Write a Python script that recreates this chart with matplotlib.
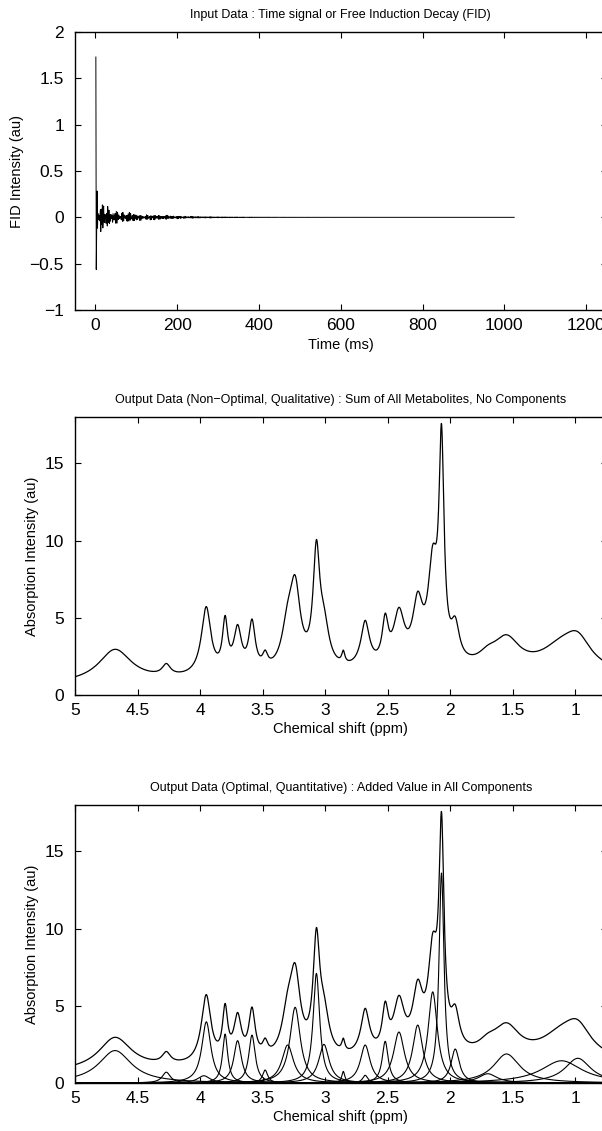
import numpy as np
import matplotlib.pyplot as plt

plt.rcParams['font.family'] = ['Liberation Sans', 'DejaVu Sans']

# ---------------------------- Spectrum model ----------------------------
# fitted metabolite lines: centre (ppm), peak height (au), half width (ppm)
PEAK_PPM = [4.68, 4.27, 3.97, 3.95, 3.80, 3.70, 3.585, 3.48, 3.30, 3.24,
            3.07, 3.01, 2.855, 2.68, 2.68, 2.52, 2.41, 2.26, 2.14, 2.07,
            1.96, 1.70, 1.55, 1.11, 0.98]
PEAK_HEIGHT = [2.1, 0.7, 0.47, 3.96, 3.17, 2.74, 3.1, 0.84, 2.46, 4.9,
               7.1, 2.5, 0.75, 2.46, 0.5, 2.7, 3.3, 3.75, 5.9, 13.6,
               2.2, 0.6, 1.88, 1.44, 1.6]
PEAK_HWHM = [0.16, 0.04, 0.06, 0.044, 0.025, 0.037, 0.031, 0.025, 0.056, 0.05,
             0.032, 0.05, 0.015, 0.047, 0.025, 0.029, 0.053, 0.049, 0.045, 0.024,
             0.04, 0.09, 0.127, 0.2, 0.127]

# broad macromolecule background: part of the sum, not drawn as a component
BG_PPM = [1.7]
BG_HEIGHT = [1.4]
BG_HWHM = [3.4]

FID_FIRST = 1.73      # first FID sample (au)
B0_MHZ = 63.9         # 1.5 T proton frequency
REF_PPM = 8.0         # receiver reference
N_FID = 1024          # samples, 1 ms dwell

ppm = np.linspace(5.0, 0.7, 3000)
t_ms = np.arange(1, N_FID + 1)


def lorentz(x, c, h, w):
    return h / (1.0 + ((x - c) / w) ** 2)


components = [lorentz(ppm, c, h, w) for c, h, w in zip(PEAK_PPM, PEAK_HEIGHT, PEAK_HWHM)]
background = sum(lorentz(ppm, c, h, w) for c, h, w in zip(BG_PPM, BG_HEIGHT, BG_HWHM))
total = np.sum(components, axis=0) + background

# time-domain signal of the same lines (area -> amplitude, width -> decay)
fid = np.zeros(N_FID, dtype=complex)
t_s = (t_ms - 1) * 1e-3
for c, h, w in zip(PEAK_PPM + BG_PPM, PEAK_HEIGHT + BG_HEIGHT, PEAK_HWHM + BG_HWHM):
    f_hz = (c - REF_PPM) * B0_MHZ
    w_hz = w * B0_MHZ
    fid += h * w * np.exp(-2 * np.pi * w_hz * t_s) * np.exp(2j * np.pi * f_hz * t_s)
fid = fid.real * FID_FIRST / fid.real[0]

# ------------------------------ Figure ------------------------------
W, H = 602, 1131
fig = plt.figure(figsize=(W / 100, H / 100), dpi=100)


def axes_px(left, top, right, bottom):
    return fig.add_axes([left / W, 1 - bottom / H, (right - left) / W, (bottom - top) / H])


def style(ax):
    ax.tick_params(direction='in', top=True, right=True, length=4, width=0.8,
                   labelsize=12.5, pad=8)
    ax.tick_params(axis='x', pad=6)
    for s in ax.spines.values():
        s.set_linewidth(1.0)


TITLE_KW = dict(fontsize=9, pad=10)
LABEL_KW = dict(fontsize=10.5)

# FID
ax1 = axes_px(75, 32, 606.6, 310)
ax1.plot(t_ms, fid, color='k', lw=0.7)
ax1.set_xlim(-50, 1250)
ax1.set_ylim(-1, 2)
ax1.set_xticks(np.arange(0, 1201, 200))
ax1.set_yticks(np.arange(-1, 2.01, 0.5))
ax1.set_yticklabels(['\u22121', '\u22120.5', '0', '0.5', '1', '1.5', '2'])
ax1.set_title('Input Data : Time signal or Free Induction Decay (FID)', **TITLE_KW)
ax1.set_xlabel('Time (ms)', labelpad=3, **LABEL_KW)
ax1.set_ylabel('FID Intensity (au)', **LABEL_KW)
style(ax1)

# summed spectrum
ax2 = axes_px(75, 417, 606.6, 695)
ax2.plot(ppm, total, color='k', lw=0.9)
ax2.set_title('Output Data (Non\u2212Optimal, Qualitative) : Sum of All Metabolites, No Components', **TITLE_KW)

# spectrum with components
ax3 = axes_px(75, 805, 606.6, 1083)
for comp in components:
    ax3.plot(ppm, comp, color='k', lw=0.8)
ax3.plot(ppm, total, color='k', lw=0.9)
ax3.set_title('Output Data (Optimal, Quantitative) : Added Value in All Components', **TITLE_KW)

for ax in (ax2, ax3):
    ax.set_xlim(5, 0.75)
    ax.set_ylim(0, 18)
    ax.set_xticks([5, 4.5, 4, 3.5, 3, 2.5, 2, 1.5, 1])
    ax.set_xticklabels(['5', '4.5', '4', '3.5', '3', '2.5', '2', '1.5', '1'])
    ax.set_yticks([0, 5, 10, 15])
    ax.set_xlabel('Chemical shift (ppm)', labelpad=3, **LABEL_KW)
    ax.set_ylabel('Absorption Intensity (au)', **LABEL_KW)
    style(ax)

fig.savefig('out.png', dpi=100)
